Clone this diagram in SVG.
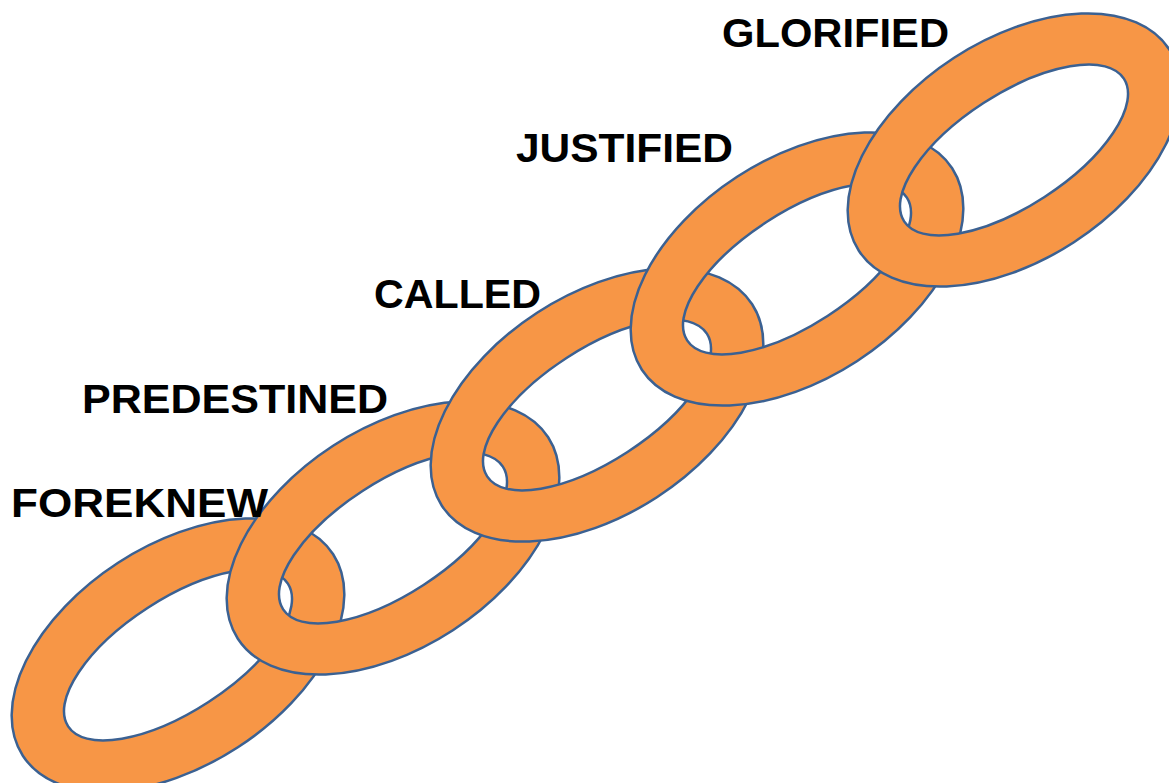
<svg xmlns="http://www.w3.org/2000/svg" xmlns:xlink="http://www.w3.org/1999/xlink" width="1169" height="783" viewBox="0 0 1169 783">
  <style>
    .ring { fill: #F79646; stroke: #3B6192; stroke-width: 2.5; fill-rule: evenodd; }
    .lbl { font-family: "Liberation Sans", Arial, sans-serif; font-weight: bold; font-size: 41px; fill: #000000; }
  </style>
  <defs>
    <path id="link" d="M -185,0 A 185,110 0 1,0 185,0 A 185,110 0 1,0 -185,0 Z M -131,0 A 131,56 0 1,0 131,0 A 131,56 0 1,0 -131,0 Z"/>
  </defs>
  <rect width="1169" height="783" fill="#FFFFFF"/>
  <g id="links">
    <g id="link-foreknew"><use xlink:href="#link" class="ring" transform="translate(178,655) rotate(-33)"/></g>
    <g id="link-predestined"><use xlink:href="#link" class="ring" transform="translate(393,538) rotate(-33)"/></g>
    <g id="link-called"><use xlink:href="#link" class="ring" transform="translate(597,405) rotate(-33)"/></g>
    <g id="link-justified"><use xlink:href="#link" class="ring" transform="translate(797,269) rotate(-33)"/></g>
    <g id="link-glorified"><use xlink:href="#link" class="ring" transform="translate(1014,150) rotate(-33)"/></g>
  </g>
  <g id="labels">
    <text id="label-foreknew" class="lbl" x="11" y="517" textLength="257" lengthAdjust="spacingAndGlyphs">FOREKNEW</text>
    <text id="label-predestined" class="lbl" x="82" y="413" textLength="306" lengthAdjust="spacingAndGlyphs">PREDESTINED</text>
    <text id="label-called" class="lbl" x="374" y="308" textLength="167" lengthAdjust="spacingAndGlyphs">CALLED</text>
    <text id="label-justified" class="lbl" x="516" y="162" textLength="217" lengthAdjust="spacingAndGlyphs">JUSTIFIED</text>
    <text id="label-glorified" class="lbl" x="722" y="47" textLength="227" lengthAdjust="spacingAndGlyphs">GLORIFIED</text>
  </g>
</svg>
